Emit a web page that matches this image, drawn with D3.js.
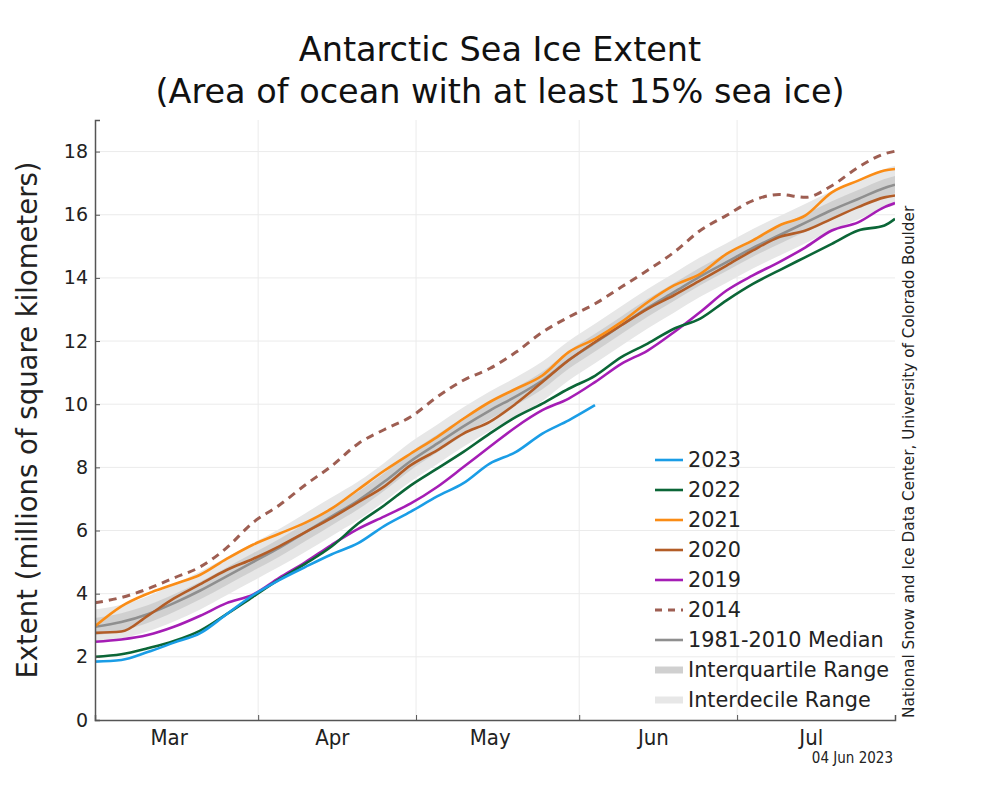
<!DOCTYPE html>
<html><head><meta charset="utf-8">
<script src="https://cdn.jsdelivr.net/npm/d3@7"></script>
<style>
body{margin:0;background:#fff;}
svg{display:block;font-family:"DejaVu Sans",sans-serif;}
</style></head><body>
<svg id="chart" width="1000" height="800"></svg>
<script>
// ---- data (days after 1 March) ----
const dayOffsets = [0,5,10,15,20,25,30,35,40,45,50,55,60,65,70,75,80,85,90,95,100,105,110,115,120,125,130,135,140,145,150,152];
const ext2023 = [1.85,1.90,2.15,2.45,2.75,3.35,3.95,4.43,4.85,5.25,5.60,6.15,6.60,7.08,7.50,8.12,8.49,9.07,9.49,9.97];
const ext2022 = [2.00,2.08,2.27,2.50,2.83,3.35,3.90,4.45,4.95,5.50,6.22,6.80,7.43,7.96,8.49,9.07,9.60,10.02,10.49,10.90,11.49,11.92,12.39,12.71,13.29,13.81,14.24,14.66,15.08,15.50,15.66,15.87];
const ext2021 = [2.97,3.60,4.00,4.30,4.60,5.10,5.55,5.90,6.25,6.70,7.30,7.90,8.44,8.96,9.54,10.07,10.49,10.91,11.65,12.07,12.60,13.23,13.76,14.13,14.76,15.19,15.66,15.98,16.71,17.08,17.40,17.45];
const ext2020 = [2.76,2.80,3.30,3.85,4.30,4.75,5.10,5.50,5.95,6.40,6.90,7.40,8.07,8.54,9.07,9.44,10.02,10.70,11.39,11.97,12.50,13.02,13.45,13.92,14.39,14.87,15.29,15.50,15.87,16.24,16.55,16.61];
const ext2019 = [2.48,2.55,2.69,2.95,3.30,3.70,3.97,4.50,5.00,5.55,6.05,6.45,6.86,7.38,8.01,8.65,9.28,9.81,10.18,10.70,11.28,11.70,12.28,12.92,13.60,14.08,14.50,14.97,15.50,15.76,16.24,16.37];
const ext2014 = [3.71,3.88,4.15,4.50,4.85,5.45,6.25,6.80,7.45,8.05,8.75,9.20,9.60,10.23,10.76,11.13,11.65,12.28,12.76,13.18,13.71,14.24,14.81,15.50,15.98,16.45,16.64,16.55,16.92,17.50,17.93,18.01];
const median = [2.95,3.10,3.35,3.70,4.10,4.55,5.00,5.45,5.95,6.45,6.95,7.55,8.20,8.75,9.30,9.80,10.25,10.75,11.40,11.95,12.50,13.05,13.55,14.05,14.50,14.95,15.35,15.75,16.15,16.50,16.85,16.95];
const q25 = [2.68,2.82,3.07,3.42,3.82,4.27,4.72,5.17,5.67,6.17,6.67,7.27,7.92,8.47,9.02,9.52,9.97,10.47,11.12,11.67,12.22,12.77,13.27,13.77,14.22,14.67,15.07,15.47,15.87,16.22,16.57,16.67];
const q75 = [3.23,3.38,3.63,3.98,4.38,4.83,5.28,5.73,6.23,6.73,7.23,7.83,8.48,9.03,9.58,10.08,10.53,11.03,11.68,12.23,12.78,13.33,13.83,14.33,14.78,15.23,15.63,16.03,16.43,16.78,17.13,17.23];
const q10 = [2.45,2.58,2.80,3.12,3.50,3.95,4.40,4.85,5.33,5.83,6.33,6.92,7.55,8.10,8.65,9.15,9.60,10.10,10.75,11.30,11.85,12.40,12.90,13.40,13.85,14.30,14.70,15.10,15.50,15.85,16.20,16.30];
const q90 = [3.50,3.65,3.92,4.30,4.70,5.15,5.60,6.05,6.55,7.05,7.55,8.15,8.80,9.35,9.90,10.40,10.85,11.35,12.00,12.55,13.10,13.65,14.15,14.65,15.10,15.55,15.95,16.35,16.75,17.10,17.45,17.55];
const yTicks = [0,2,4,6,8,10,12,14,16,18];
const monthStarts = ["2023-04-01","2023-05-01","2023-06-01","2023-07-01"];
const monthLabelDates = ["2023-03-15","2023-04-15","2023-05-15","2023-06-15","2023-07-15"];
const seriesNames = ["2023","2022","2021","2020","2019","2014"];
const seriesColors = ["#1a9de6","#0b6637","#fa8c16","#b35d27","#a51db5","#9e5e52"];

// ---- scales ----
const parse = d3.utcParse("%Y-%m-%d");
const startDate = parse("2023-03-01");
const endDate = parse("2023-07-31");
const dates = dayOffsets.map(d => d3.utcDay.offset(startDate, d));
const x = d3.scaleUtc().domain([startDate, endDate]).range([95, 895]);
const y = d3.scaleLinear().domain([0, 19]).range([720, 120]);

const svg = d3.select("#chart");
svg.append("rect").attr("width",1000).attr("height",800).attr("fill","#fff");

svg.append("defs").append("clipPath").attr("id","plotclip")
  .append("rect").attr("x",95).attr("y",120).attr("width",800).attr("height",600);

// gridlines
svg.append("g").selectAll("line").data(yTicks.slice(1)).join("line")
  .attr("x1",95).attr("x2",895).attr("y1",d=>y(d)).attr("y2",d=>y(d))
  .attr("stroke","#ebebeb").attr("stroke-width",1);
svg.append("g").selectAll("line").data(monthStarts.map(parse)).join("line")
  .attr("x1",d=>x(d)).attr("x2",d=>x(d)).attr("y1",120).attr("y2",720)
  .attr("stroke","#ebebeb").attr("stroke-width",1);

const plot = svg.append("g").attr("clip-path","url(#plotclip)");

const area = (lo, hi) => d3.area().curve(d3.curveMonotoneX)
  .x((d,i)=>x(dates[i])).y0((d,i)=>y(lo[i])).y1((d,i)=>y(hi[i]));
plot.append("path").attr("d", area(q10,q90)(dayOffsets)).attr("fill","#e7e7e7");
plot.append("path").attr("d", area(q25,q75)(dayOffsets)).attr("fill","#d0d0d0");

const line = d3.line().curve(d3.curveMonotoneX).x(d=>x(d[0])).y(d=>y(d[1]));
const pairs = arr => arr.map((v,i)=>[dates[i], v]);

plot.append("path").attr("d", line(pairs(median))).attr("fill","none")
  .attr("stroke","#8f8f8f").attr("stroke-width",2.6);

const seriesData = [ext2023, ext2022, ext2021, ext2020, ext2019, ext2014];
[5,4,3,2,1,0].forEach(k => {
  plot.append("path").attr("d", line(pairs(seriesData[k]))).attr("fill","none")
    .attr("stroke", seriesColors[k]).attr("stroke-width", k===5 ? 3 : 2.6)
    .attr("stroke-dasharray", k===5 ? "8,6" : null)
    .attr("stroke-linejoin","round");
});

// axes
const yAxis = d3.axisLeft(y).tickValues(yTicks).tickSize(-5).tickPadding(7);
const gy = svg.append("g").attr("transform","translate(95,0)").call(yAxis);
gy.select(".domain").attr("stroke","#555").attr("stroke-width",1.5);
gy.selectAll(".tick line").attr("stroke","#555");
gy.selectAll("text").attr("font-size",19).attr("fill","#222").attr("font-family","DejaVu Sans");

const xAxis = d3.axisBottom(x).tickValues(monthStarts.map(parse)).tickSize(-5).tickFormat("");
const gx = svg.append("g").attr("transform","translate(0,720)").call(xAxis);
gx.select(".domain").attr("stroke","#555").attr("stroke-width",1.5);
gx.selectAll(".tick line").attr("stroke","#555");

const xLab = d3.axisBottom(x).tickValues(monthLabelDates.map(parse)).tickSize(0).tickPadding(9)
  .tickFormat(d3.utcFormat("%b"));
const gxl = svg.append("g").attr("transform","translate(0,720)").call(xLab);
gxl.select(".domain").remove();
gxl.selectAll("text").attr("font-size",22).attr("fill","#222")
  .attr("font-family","'DejaVu Sans Condensed','DejaVu Sans'").style("font-stretch","condensed");

// titles
svg.append("text").attr("x",500).attr("y",61).attr("text-anchor","middle")
  .attr("font-size",33.5).attr("fill","#111").text("Antarctic Sea Ice Extent");
svg.append("text").attr("x",500).attr("y",103).attr("text-anchor","middle")
  .attr("font-size",33.5).attr("fill","#111").text("(Area of ocean with at least 15% sea ice)");
svg.append("text").attr("transform","translate(37,420) rotate(-90)").attr("text-anchor","middle")
  .attr("font-size",27.5).attr("fill","#222").text("Extent (millions of square kilometers)");
svg.append("text").attr("transform","translate(914,718) rotate(-90)").attr("text-anchor","start")
  .attr("font-size",15.3).attr("fill","#222").text("National Snow and Ice Data Center, University of Colorado Boulder");
svg.append("text").attr("x",893).attr("y",763).attr("text-anchor","end")
  .attr("font-size",15).attr("fill","#222")
  .attr("font-family","'DejaVu Sans Condensed','DejaVu Sans'").style("font-stretch","condensed")
  .text("04 Jun 2023");

// legend
const legendItems = seriesNames.map((n,i)=>({label:n, color:seriesColors[i], dash:i===5, w:2.6}))
  .concat([{label:"1981-2010 Median", color:"#8f8f8f", w:2.6},
           {label:"Interquartile Range", color:"#d0d0d0", w:7},
           {label:"Interdecile Range", color:"#e7e7e7", w:7}]);
const lg = svg.append("g");
legendItems.forEach((it,i)=>{
  const cy = 460 + i*30;
  lg.append("line").attr("x1",655).attr("x2",683).attr("y1",cy).attr("y2",cy)
    .attr("stroke",it.color).attr("stroke-width",it.dash?3:it.w)
    .attr("stroke-dasharray", it.dash ? "7,6" : null);
  lg.append("text").attr("x",688).attr("y",cy).attr("dy","0.36em")
    .attr("font-size",20.8).attr("fill","#222").text(it.label);
});
</script>
</body></html>
